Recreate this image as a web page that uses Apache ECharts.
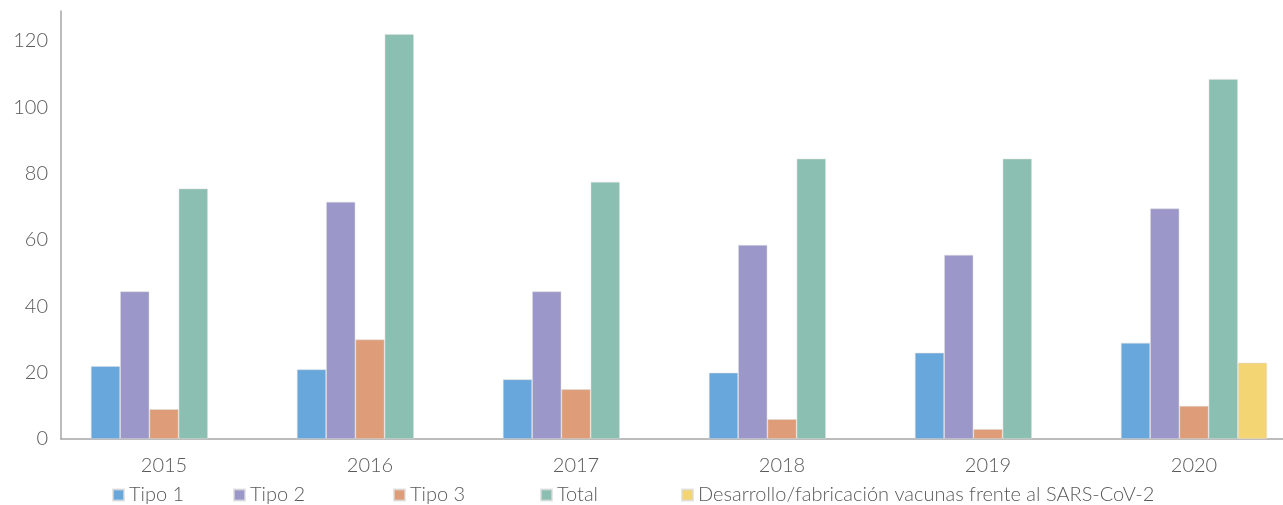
<!DOCTYPE html>
<html>
<head>
<meta charset="utf-8">
<script src="https://cdn.jsdelivr.net/npm/echarts@6/dist/echarts.min.js"></script>
<style>html,body{margin:0;padding:0;background:#fff}#c{width:1283px;height:505px}</style>
</head>
<body>
<div id="c"></div>
<script>
const categories = ['2015', '2016', '2017', '2018', '2019', '2020'];
const seriesNames = ['Tipo 1', 'Tipo 2', 'Tipo 3', 'Total', 'Desarrollo/fabricación vacunas frente al SARS-CoV-2'];
const tipo1 = [22, 21, 18, 20, 26, 29];
const tipo2 = [44.5, 71.5, 44.5, 58.5, 55.5, 69.5];
const tipo3 = [9, 30, 15, 6, 3, 10];
const total = [75.5, 122, 77.5, 84.5, 84.5, 108.5];
const vacunas = [null, null, null, null, null, 23];
const yTicks = [0, 20, 40, 60, 80, 100, 120];

const colors = ['#68a7db', '#9b97c8', '#de9d78', '#8abfb1', '#f3d673'];
const values = [tipo1, tipo2, tipo3, total, vacunas];
const legendLeft = [112, 233, 393, 540, 681];
const font = 'Lato, "Open Sans", sans-serif';
const textColor = '#595959';

const chart = echarts.init(document.getElementById('c'));
chart.setOption({
  animation: false,
  color: colors,
  grid: { left: 61, width: 1236, top: 11, bottom: 66, containLabel: false, outerBoundsMode: 'none' },
  legend: seriesNames.map((n, i) => ({
    data: [n], left: legendLeft[i], top: 485, padding: 0, itemWidth: 11, itemHeight: 11, icon: 'rect',
    itemGap: 0,
    textStyle: { fontFamily: font, fontSize: 20, color: textColor, fontWeight: 300 }
  })),
  xAxis: {
    type: 'category', data: categories,
    axisLine: { lineStyle: { color: '#a6a6a6', width: 1.5 } },
    axisTick: { show: false },
    axisLabel: { fontFamily: font, fontSize: 20, color: textColor, fontWeight: 300, margin: 17 }
  },
  yAxis: {
    type: 'value', min: 0, max: 129, interval: 20,
    axisLine: { show: true, lineStyle: { color: '#a6a6a6', width: 1.5 } },
    axisTick: { show: false },
    splitLine: { show: false },
    axisLabel: {
      fontFamily: font, fontSize: 20, color: textColor, fontWeight: 300, margin: 13,
      showMaxLabel: false,
      formatter: v => yTicks.includes(v) ? String(v) : ''
    }
  },
  series: seriesNames.map((n, i) => ({
    name: n, type: 'bar', data: values[i],
    barGap: '0%', barCategoryGap: '29%',
    itemStyle: { color: colors[i], borderColor: 'rgba(220,220,220,0.7)', borderWidth: 0.75 }
  }))
});
</script>
</body>
</html>
